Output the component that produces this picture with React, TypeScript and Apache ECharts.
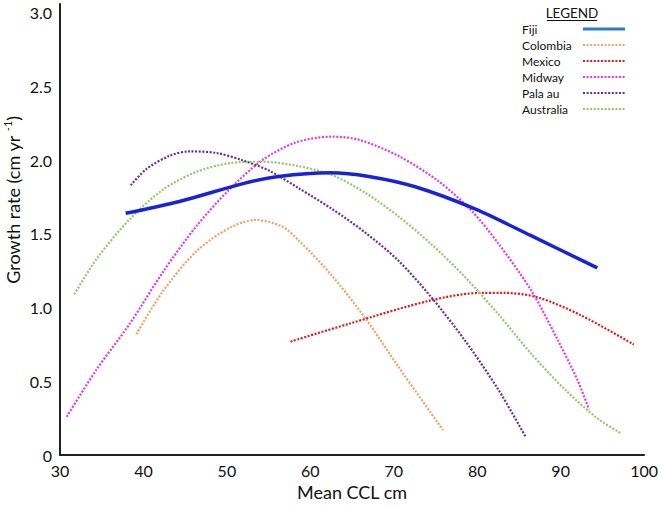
import React, { useEffect, useRef } from "react";
import * as echarts from "echarts";

// Mean curved carapace length (cm) and fitted growth rate (cm/yr) per population
const fijiCCL = [37.87, 44.31, 51.82, 56.23, 62.4, 67.0, 72.57, 79.73, 86.4, 94.39];
const fijiRate = [1.64, 1.72, 1.84, 1.89, 1.915, 1.89, 1.82, 1.67, 1.49, 1.27];

const colombiaCCL = [39.15, 42.32, 46.3, 50.27, 53.46, 56.63, 58.62, 62.55, 66.57, 70.54, 75.91];
const colombiaRate = [0.82, 1.11, 1.38, 1.54, 1.595, 1.55, 1.455, 1.22, 0.93, 0.6, 0.17];

const mexicoCCL = [57.63, 64.58, 74.48, 80.44, 83.27, 87.24, 92.37, 98.77];
const mexicoRate = [0.77, 0.89, 1.05, 1.1, 1.1, 1.07, 0.95, 0.75];

const midwayCCL = [30.8, 34.38, 38.35, 42.32, 46.3, 50.27, 54.24, 58.23, 62.55, 65.77, 70.54, 75.31, 79.28, 82.47, 86.44, 89.66, 92.01, 93.4];
const midwayRate = [0.26, 0.58, 0.89, 1.24, 1.55, 1.8, 2.0, 2.12, 2.16, 2.14, 2.03, 1.86, 1.66, 1.44, 1.12, 0.78, 0.51, 0.31];

const palauCCL = [38.47, 40.34, 43.12, 45.5, 48.69, 51.86, 55.04, 58.62, 62.59, 66.57, 70.54, 74.51, 78.5, 82.47, 85.84];
const palauRate = [1.83, 1.94, 2.03, 2.06, 2.05, 2.0, 1.93, 1.81, 1.67, 1.51, 1.32, 1.07, 0.78, 0.45, 0.12];

const australiaCCL = [31.71, 34.38, 38.35, 42.32, 46.3, 50.27, 54.24, 58.62, 62.59, 66.57, 70.54, 74.51, 78.5, 82.47, 86.44, 90.42, 94.39, 97.17];
const australiaRate = [1.09, 1.33, 1.6, 1.8, 1.92, 1.98, 1.99, 1.96, 1.9, 1.78, 1.62, 1.43, 1.21, 0.96, 0.69, 0.45, 0.25, 0.15];

const populations = ["Fiji", "Colombia", "Mexico", "Midway", "Pala au", "Australia"];

const zip = (xs: number[], ys: number[]) => xs.map((x, i) => [x, ys[i]]);

const FONT = "Lato, 'Open Sans', sans-serif";
const SMOOTH = 0.3;

export default function App() {
  const ref = useRef<HTMLDivElement>(null);

  useEffect(() => {
    if (!ref.current) return;
    const chart = echarts.init(ref.current, undefined, { renderer: "svg" });

    const dotted = (name: string, xs: number[], ys: number[], color: string) => ({
      name,
      type: "line",
      data: zip(xs, ys),
      smooth: SMOOTH,
      symbol: "none",
      lineStyle: { color, width: 2.2, type: [2, 1.6], cap: "butt" },
      itemStyle: { color },
    });

    const option = {
      animation: false,
      backgroundColor: "#ffffff",
      grid: { left: 60, right: 14, top: 4, bottom: 43, containLabel: false },
      xAxis: {
        type: "value",
        min: 30,
        max: 100,
        interval: 10,
        name: "Mean CCL cm",
        nameLocation: "middle",
        nameGap: 25,
        nameTextStyle: { fontFamily: FONT, fontSize: 18, color: "#111" },
        axisLine: { lineStyle: { color: "#222", width: 2 } },
        axisTick: { show: false },
        splitLine: { show: false },
        axisLabel: { fontFamily: FONT, fontSize: 16, color: "#111", margin: 7 },
      },
      yAxis: {
        type: "value",
        min: 0,
        max: 3.06,
        interval: 0.5,
        axisLine: { show: true, lineStyle: { color: "#222", width: 2 } },
        axisTick: { show: false },
        splitLine: { show: false },
        axisLabel: {
          fontFamily: FONT,
          fontSize: 16,
          color: "#111",
          margin: 8,
          formatter: (v: number) => (v > 3.001 ? "" : v === 0 ? "0" : v.toFixed(1)),
        },
      },
      legend: {
        orient: "vertical",
        left: 522,
        top: 23,
        padding: 0,
        align: "right",
        itemWidth: 42,
        itemHeight: 10,
        itemGap: 4,
        itemStyle: { opacity: 0 },
        formatter: (name: string) => `{t|${name}}`,
        textStyle: {
          fontFamily: FONT,
          fontSize: 12,
          color: "#111",
          rich: { t: { width: 56, align: "left", fontFamily: FONT, fontSize: 12, color: "#111" } },
        },
        data: [
          { name: populations[0], lineStyle: { color: "#2f78d6", width: 3 } },
          { name: populations[1] },
          { name: populations[2] },
          { name: populations[3] },
          { name: populations[4] },
          { name: populations[5] },
        ],
      },
      graphic: [
        {
          type: "text",
          x: 572,
          y: 13,
          style: {
            text: "LEGEND",
            align: "center",
            verticalAlign: "middle",
            fontFamily: FONT,
            fontSize: 13.5,
            fill: "#111",
          },
        },
        {
          type: "line",
          shape: { x1: 547, y1: 20.5, x2: 597, y2: 20.5 },
          style: { stroke: "#111", lineWidth: 1 },
        },
        {
          type: "text",
          x: 13,
          y: 200,
          rotation: Math.PI / 2,
          style: {
            text: "{a|Growth rate (cm yr }{s|-1}{a|)}",
            align: "center",
            verticalAlign: "middle",
            rich: {
              a: { fontFamily: FONT, fontSize: 18, fill: "#111" },
              s: { fontFamily: FONT, fontSize: 11, fill: "#111", padding: [0, 0, 11, 0] },
            },
          },
        },
      ],
      series: [
        {
          name: populations[0],
          type: "line",
          data: zip(fijiCCL, fijiRate),
          smooth: SMOOTH,
          symbol: "none",
          lineStyle: { color: "#1a22d8", width: 3.5 },
          itemStyle: { color: "#1a22d8" },
          z: 5,
        },
        dotted(populations[1], colombiaCCL, colombiaRate, "#f4a06a"),
        dotted(populations[2], mexicoCCL, mexicoRate, "#e01a1a"),
        dotted(populations[3], midwayCCL, midwayRate, "#e23ae2"),
        dotted(populations[4], palauCCL, palauRate, "#6a2c94"),
        dotted(populations[5], australiaCCL, australiaRate, "#92c86a"),
      ],
    };

    chart.setOption(option as any);
    return () => chart.dispose();
  }, []);

  return (
    <div
      ref={ref}
      style={{ position: "absolute", left: 0, top: 0, width: 661, height: 506 }}
    />
  );
}
